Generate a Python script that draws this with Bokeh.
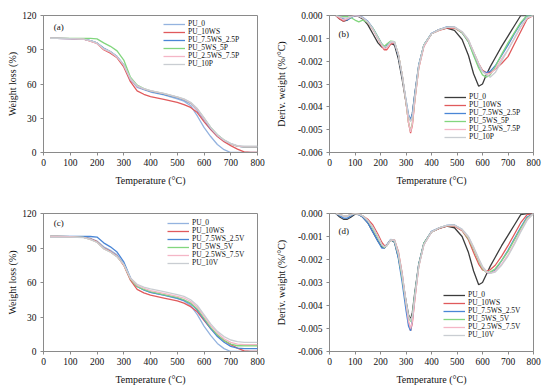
from bokeh.plotting import figure
from bokeh.layouts import column, row
from bokeh.models import Range1d, FixedTicker, NumeralTickFormatter, Label, Legend, LegendItem
from bokeh.embed import file_html
from bokeh.resources import INLINE

FONT = "Liberation Serif"

# ---------------- data ----------------
T_tga = [25, 50, 100, 150, 175, 200, 225, 250, 275, 300, 325, 350, 375, 400,
         450, 500, 525, 550, 575, 600, 625, 650, 675, 700, 725, 750, 775, 800]

# panel (a) weight loss (%)
a_PU_0 = [100, 100, 99.8, 99.3, 98, 96, 91, 88, 84, 76, 64, 57, 55, 53,
          50.5, 47, 45, 41, 32, 22, 14, 7, 2.5, 0, 0, 0, 0, 0]
a_PU_10WS = [100, 100, 99.8, 99.2, 97.5, 95.5, 90, 87, 83, 75, 62, 54, 51, 49,
             46.5, 44, 42, 39.5, 35, 27, 20, 14, 9.5, 6, 3, 0.5, 0, 0]
a_PU_75WS_25P = [100, 100, 99.8, 99.3, 98, 96, 91.5, 88.5, 84, 77, 64, 58, 55.5, 53.5,
                 51, 48, 46, 43, 37, 29, 21, 15, 10.5, 7.5, 5.5, 4.8, 4.8, 4.8]
a_PU_5WS_5P = [100, 100, 100, 100, 100, 99.5, 96, 93, 89, 81, 66, 59, 56, 54,
               51.5, 48.5, 46.5, 43.5, 38, 30, 22, 15.5, 11, 7.5, 5.5, 5, 5, 5]
a_PU_25WS_75P = [100, 100, 99.8, 99.2, 97.5, 95.5, 90.5, 88, 83.5, 76.5, 64, 58, 55.8, 54,
                 51.5, 48.5, 46.5, 43.5, 37.5, 29.5, 21.5, 15, 10.5, 7.5, 5.5, 5, 5, 5]
a_PU_10P = [100, 100, 99.8, 99.3, 98, 96, 91, 88.3, 84, 77, 65, 58.5, 56, 54.2,
            51.8, 48.8, 47, 44, 38.5, 30.5, 22, 15.5, 11, 8, 6, 5.5, 5.5, 5.5]

# panel (c) weight loss (%)
c_PU_0 = [100, 100, 99.8, 99.3, 98.5, 96, 91, 88, 84, 76, 64, 56.5, 53.5, 51.5,
          49, 46, 44, 40, 32, 22, 14, 7, 2.5, 0, 0, 0, 0, 0]
c_PU_10WS = [100, 100, 99.8, 99.2, 98, 95.5, 90, 87, 83, 75, 62, 54, 51, 49,
             46.5, 44, 42, 39, 34.5, 27, 20, 14, 9.5, 6, 3, 0.5, 0, 0]
c_PU_75WS_25V = [100, 100, 100, 100, 100, 99.5, 94.5, 91, 86.5, 78, 64, 56.5, 53.5, 51.5,
                 49, 46.5, 44.5, 41.5, 36, 28, 20, 13, 8, 4.5, 3, 2.5, 2.5, 2.5]
c_PU_5WS_5V = [100, 100, 99.8, 99.2, 97.5, 95, 89.5, 86.5, 82.5, 75.5, 63, 56.5, 54, 52,
               49.5, 47, 45, 42, 37, 29, 21, 14.5, 9.5, 6.5, 5, 5, 5, 5]
c_PU_25WS_75V = [100, 100, 99.8, 99.2, 97.5, 95, 89.5, 86.5, 82.5, 75.5, 63.5, 57.5, 55, 53,
                 50.5, 48, 46.5, 43.5, 38.5, 30.5, 22.5, 16, 11, 8, 6.5, 6, 6, 6]
c_PU_10V = [99.5, 99.5, 99.5, 99, 97.5, 95, 89.5, 86.5, 82.5, 76, 64, 58.5, 56, 54.5,
            52, 49.5, 48, 45, 40, 32, 24, 17.5, 13, 10, 8.5, 8, 8, 8]

T_dtg = [25, 40, 55, 70, 85, 100, 115, 130, 150, 170, 190, 205, 215, 225, 240,
         255, 270, 285, 300, 310, 318, 325, 335, 350, 370, 400, 430, 460, 490,
         520, 545, 565, 585, 600, 615, 630, 650, 675, 700, 725, 750, 775, 800]

# panel (b) derivative weight (x 0.001 %/°C)
b_PU_0 = [0, -0.15, -0.25, -0.2, -0.05, -0.02, -0.05, -0.15, -0.4, -0.8,
          -1.2, -1.38, -1.42, -1.35, -1.22, -1.3, -1.9, -2.8, -3.8, -4.45,
          -4.6, -4.3, -3.4, -2.2, -1.3, -0.8, -0.62, -0.55, -0.65, -1.05,
          -1.75, -2.55, -3.1, -3.0, -2.6, -2.25, -1.85, -1.35, -0.9, -0.45,
          0, 0, 0]
b_PU_10WS = [0, -0.15, -0.25, -0.15, -0.05, 0, -0.02, -0.1, -0.3, -0.6,
             -1.0, -1.35, -1.5, -1.5, -1.25, -1.2, -1.7, -2.6, -3.8, -4.7,
             -5.15, -4.8, -3.7, -2.3, -1.35, -0.8, -0.65, -0.55, -0.55, -0.75,
             -1.1, -1.6, -2.1, -2.4, -2.5, -2.5, -2.35, -2.1, -1.8, -1.25,
             -0.7, -0.15, 0]
b_PU_75WS_25P = [0, -0.05, -0.15, -0.2, -0.1, 0, -0.02, -0.08, -0.25, -0.55,
                 -0.95, -1.25, -1.38, -1.3, -1.15, -1.2, -1.75, -2.65, -3.7, -4.35,
                 -4.55, -4.3, -3.4, -2.15, -1.3, -0.78, -0.62, -0.5, -0.5, -0.75,
                 -1.15, -1.7, -2.2, -2.45, -2.5, -2.45, -2.2, -1.75, -1.3, -0.8,
                 -0.35, 0, 0]
b_PU_5WS_5P = [0, -0.05, -0.05, -0.05, -0.1, -0.2, -0.28, -0.2, -0.3, -0.55,
               -0.95, -1.25, -1.35, -1.25, -1.12, -1.15, -1.7, -2.6, -3.8, -4.7,
               -5.05, -4.7, -3.6, -2.25, -1.3, -0.8, -0.63, -0.52, -0.52, -0.75,
               -1.15, -1.75, -2.3, -2.6, -2.7, -2.6, -2.25, -1.7, -1.2, -0.75,
               -0.3, 0, 0]
b_PU_25WS_75P = [0, -0.1, -0.2, -0.15, -0.05, 0, -0.03, -0.1, -0.28, -0.6,
                 -1.0, -1.3, -1.45, -1.42, -1.2, -1.18, -1.7, -2.6, -3.8, -4.7,
                 -5.1, -4.75, -3.65, -2.3, -1.35, -0.8, -0.63, -0.52, -0.52, -0.72,
                 -1.1, -1.6, -2.15, -2.45, -2.55, -2.55, -2.35, -1.9, -1.5, -1.0,
                 -0.5, -0.1, 0]
b_PU_10P = [0, -0.05, -0.1, -0.1, -0.05, 0, -0.03, -0.1, -0.28, -0.58,
            -0.98, -1.28, -1.4, -1.35, -1.15, -1.15, -1.7, -2.6, -3.7, -4.4,
            -4.65, -4.4, -3.5, -2.2, -1.3, -0.8, -0.63, -0.52, -0.5, -0.7,
            -1.05, -1.6, -2.1, -2.45, -2.6, -2.7, -2.5, -2.0, -1.5, -1.0,
            -0.5, -0.1, 0]

# panel (d) derivative weight (x 0.001 %/°C)
d_PU_0 = [0, -0.15, -0.25, -0.25, -0.15, -0.03, -0.05, -0.15, -0.4, -0.8,
          -1.2, -1.45, -1.5, -1.38, -1.15, -1.25, -1.9, -2.8, -3.8, -4.4,
          -4.6, -4.3, -3.4, -2.2, -1.3, -0.8, -0.65, -0.55, -0.62, -1.0,
          -1.7, -2.5, -3.1, -3.0, -2.65, -2.3, -1.9, -1.4, -0.95, -0.5,
          -0.05, 0, 0]
d_PU_10WS = [0, -0.05, -0.1, -0.1, -0.05, 0, -0.03, -0.1, -0.25, -0.5,
             -0.9, -1.25, -1.4, -1.38, -1.15, -1.15, -1.65, -2.6, -3.9, -4.75,
             -5.1, -4.75, -3.7, -2.3, -1.35, -0.8, -0.65, -0.55, -0.55, -0.75,
             -1.15, -1.7, -2.2, -2.45, -2.5, -2.45, -2.25, -1.85, -1.4, -0.9,
             -0.4, -0.05, 0]
d_PU_75WS_25V = [0, -0.1, -0.2, -0.2, -0.1, 0, -0.05, -0.15, -0.4, -0.8,
                 -1.2, -1.5, -1.5, -1.35, -1.12, -1.25, -1.95, -3.0, -4.2, -4.9,
                 -5.1, -4.6, -3.5, -2.2, -1.3, -0.78, -0.62, -0.52, -0.5, -0.7,
                 -1.05, -1.5, -2.0, -2.35, -2.55, -2.6, -2.45, -2.05, -1.6, -1.1,
                 -0.6, -0.15, 0]
d_PU_5WS_5V = [0, -0.05, -0.1, -0.1, -0.05, 0, -0.03, -0.1, -0.3, -0.65,
               -1.05, -1.38, -1.48, -1.4, -1.15, -1.2, -1.8, -2.8, -3.9, -4.5,
               -4.7, -4.45, -3.5, -2.25, -1.3, -0.8, -0.63, -0.53, -0.52, -0.72,
               -1.1, -1.55, -2.05, -2.4, -2.55, -2.55, -2.4, -2.05, -1.65, -1.15,
               -0.65, -0.2, 0]
d_PU_25WS_75V = [0, -0.05, -0.1, -0.1, -0.05, 0, -0.03, -0.1, -0.3, -0.6,
                 -1.0, -1.35, -1.45, -1.4, -1.15, -1.18, -1.75, -2.7, -3.9, -4.7,
                 -5.0, -4.7, -3.65, -2.3, -1.35, -0.8, -0.63, -0.53, -0.52, -0.72,
                 -1.05, -1.5, -2.0, -2.35, -2.55, -2.6, -2.5, -2.2, -1.8, -1.3,
                 -0.75, -0.25, 0]
d_PU_10V = [0, -0.05, -0.1, -0.1, -0.05, 0, -0.03, -0.1, -0.3, -0.6,
            -1.0, -1.35, -1.45, -1.4, -1.15, -1.15, -1.7, -2.65, -3.8, -4.45,
            -4.65, -4.45, -3.55, -2.3, -1.35, -0.8, -0.63, -0.52, -0.5, -0.68,
            -1.0, -1.45, -1.95, -2.3, -2.5, -2.6, -2.55, -2.25, -1.85, -1.35,
            -0.8, -0.3, 0]

labels_P = ["PU_0", "PU_10WS", "PU_7.5WS_2.5P", "PU_5WS_5P", "PU_2.5WS_7.5P", "PU_10P"]
labels_V = ["PU_0", "PU_10WS", "PU_7.5WS_2.5V", "PU_5WS_5V", "PU_2.5WS_7.5V", "PU_10V"]

x_ticks = [0, 100, 200, 300, 400, 500, 600, 700, 800]
tga_ticks = [0, 30, 60, 90, 120]
dtg_ticks = [-0.006, -0.005, -0.004, -0.003, -0.002, -0.001, 0.0]

COL_TGA = ["#94b3df", "#e05a5c", "#4a86d6", "#82d67e", "#f4b6c6", "#c9cdd2"]
COL_DTG = ["#3c3c3c", "#e05a5c", "#4a86d6", "#82d67e", "#f4b6c6", "#c9cdd2"]
AX = "#8a8a8a"
ITEM_H = 8
ROW_STEP = 8


def make_fig(width, height, left, right, top, bottom, yr, yticks, ylabel, ylab_standoff, yfmt=None):
    p = figure(width=width, height=height, output_backend="svg", toolbar_location=None,
               x_range=Range1d(0, 800), y_range=Range1d(*yr),
               min_border_left=left, min_border_right=right,
               min_border_top=top, min_border_bottom=bottom)
    p.xgrid.visible = False
    p.ygrid.visible = False
    p.outline_line_color = AX
    p.outline_line_width = 1
    p.xaxis.ticker = FixedTicker(ticks=x_ticks)
    p.yaxis.ticker = FixedTicker(ticks=yticks)
    if yfmt:
        p.yaxis.formatter = NumeralTickFormatter(format=yfmt)
    for ax in (p.xaxis[0], p.yaxis[0]):
        ax.axis_line_color = AX
        ax.major_tick_line_color = AX
        ax.minor_tick_line_color = None
        ax.major_tick_out = 3
        ax.major_tick_in = 0
        ax.major_label_text_font = FONT
        ax.major_label_text_font_size = "9.5px"
        ax.major_label_text_color = "#111111"
        ax.axis_label_text_font = FONT
        ax.axis_label_text_font_size = "10px"
        ax.axis_label_text_font_style = "normal"
        ax.axis_label_text_color = "#111111"
    p.xaxis.major_label_standoff = 3
    p.xaxis.axis_label = "Temperature (°C)"
    p.xaxis.axis_label_standoff = 6
    p.yaxis.major_label_standoff = 4
    p.yaxis.axis_label = ylabel
    p.yaxis.axis_label_standoff = ylab_standoff
    return p


def add_lines(p, x, series, labels, colors, frame_h, lx, first_row, scale=1.0):
    # one single-item legend per series, so that rows can be packed tightly
    for i, (s, lab, c) in enumerate(zip(series, labels, colors)):
        r = p.line(x, [v * scale for v in s], line_color=c, line_width=1.3)
        centre = first_row + i * ROW_STEP
        lg = Legend(items=[LegendItem(label=lab, renderers=[r])],
                    location=(lx, frame_h - centre - ITEM_H // 2))
        lg.border_line_color = None
        lg.background_fill_alpha = 0
        lg.padding = 0
        lg.margin = 0
        lg.spacing = 0
        lg.label_height = ITEM_H
        lg.glyph_height = ITEM_H
        lg.glyph_width = 22
        lg.label_standoff = 3
        lg.label_text_font = FONT
        lg.label_text_font_size = "7.5px"
        lg.label_text_color = "#111111"
        lg.label_text_baseline = "middle"
        lg.click_policy = "none"
        p.add_layout(lg, "center")


def add_tag(p, x, y, text):
    p.add_layout(Label(x=x, y=y, text=text, text_font=FONT, text_font_size="9px",
                       text_baseline="middle", text_color="#111111"))


# (a)  frame x 43-257, y 15-152
pa = make_fig(268, 198, 43, 11, 15, 46, (0, 120), tga_ticks, "Weight loss (%)", 1)
add_lines(pa, T_tga, [a_PU_0, a_PU_10WS, a_PU_75WS_25P, a_PU_5WS_5P, a_PU_25WS_75P, a_PU_10P],
          labels_P, COL_TGA, 137, 120, 9)
add_tag(pa, 38, 110, "(a)")

# (b)  frame x 329-533, y 14-152
pb = make_fig(282, 198, 61, 17, 14, 46, (-0.006, 0.0), dtg_ticks, "Deriv. weight (%/°C)", 8, "0.000")
add_lines(pb, T_dtg, [b_PU_0, b_PU_10WS, b_PU_75WS_25P, b_PU_5WS_5P, b_PU_25WS_75P, b_PU_10P],
          labels_P, COL_DTG, 138, 115, 83, 1e-3)
add_tag(pb, 35, -0.00083, "(b)")

# (c)  frame x 43-257, y 213-351
pc = make_fig(268, 194, 43, 11, 15, 41, (0, 120), tga_ticks, "Weight loss (%)", 1)
add_lines(pc, T_tga, [c_PU_0, c_PU_10WS, c_PU_75WS_25V, c_PU_5WS_5V, c_PU_25WS_75V, c_PU_10V],
          labels_V, COL_TGA, 138, 124, 10)
add_tag(pc, 38, 112, "(c)")

# (d)  frame x 329-533, y 213-351
pd = make_fig(282, 194, 61, 17, 15, 41, (-0.006, 0.0), dtg_ticks, "Deriv. weight (%/°C)", 8, "0.000")
add_lines(pd, T_dtg, [d_PU_0, d_PU_10WS, d_PU_75WS_25V, d_PU_5WS_5V, d_PU_25WS_75V, d_PU_10V],
          labels_V, COL_DTG, 138, 114, 82, 1e-3)
add_tag(pd, 35, -0.00075, "(d)")

layout = column(row(pa, pb), row(pc, pd))

open("out.html", "w").write(file_html(layout, INLINE))
